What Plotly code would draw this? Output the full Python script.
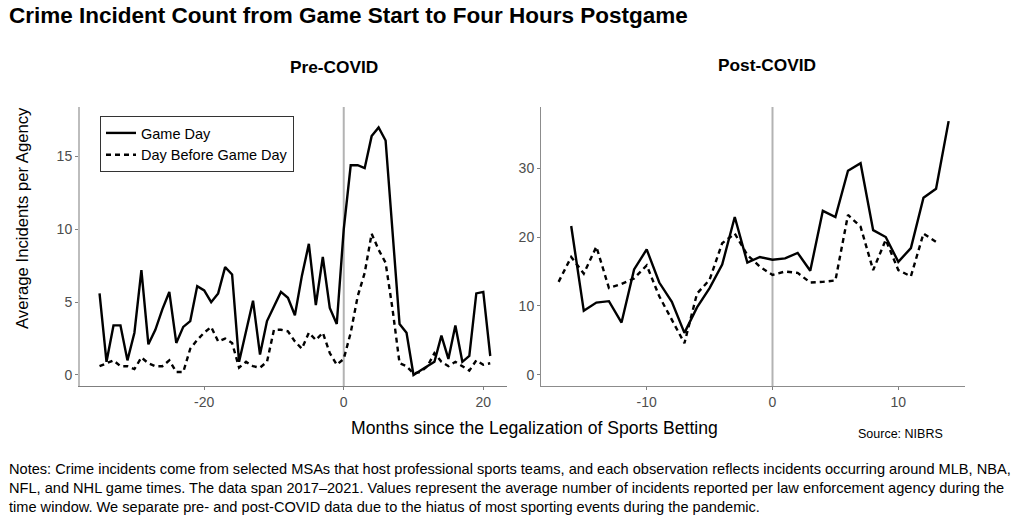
import plotly.graph_objects as go

# ---------------- data ----------------
months_pre = list(range(-35, 22))
game_day_pre = [5.6, 0.9, 3.4, 3.4, 1.0, 2.9, 7.2, 2.1, 3.1, 4.5,
                5.7, 2.2, 3.3, 3.7, 6.1, 5.8, 5.0, 5.6, 7.4, 6.9,
                0.9, 3.0, 5.1, 1.4, 3.7, 4.7, 5.7, 5.3, 4.1,
                6.8, 9.0, 4.8, 8.1, 4.6, 3.5, 10.0, 14.4, 14.4, 14.2,
                16.4, 17.0, 16.1, 9.5, 3.5, 2.9, 0.0, 0.3, 0.6, 0.9,
                2.7, 1.1, 3.4, 0.9, 1.3, 5.6, 5.7, 1.3]
day_before_pre = [0.6, 0.8, 1.0, 0.6, 0.6, 0.4, 1.2, 0.8, 0.6, 0.6,
                  1.0, 0.2, 0.2, 1.8, 2.4, 2.9, 3.3, 2.3, 2.5, 2.2,
                  0.5, 0.9, 0.6, 0.5, 0.9, 3.1, 3.1, 3.0, 2.3,
                  1.8, 2.9, 2.4, 2.9, 1.5, 0.7, 1.1, 2.9, 5.4, 7.0,
                  9.7, 8.6, 7.7, 4.5, 0.8, 0.6, 0.1, 0.2, 0.6, 1.5,
                  0.9, 0.6, 0.9, 0.6, 0.3, 1.0, 0.7, 0.8]

months_post_game = list(range(-16, 15))
game_day_post = [21.6, 9.3, 10.5, 10.7, 7.6, 15.3, 18.2, 13.4, 10.6, 6.1,
                 9.8, 12.6, 16.0, 22.9, 16.3, 17.1,
                 16.7, 16.9, 17.7, 15.1, 23.8, 22.9, 29.6, 30.7, 21.0, 20.0,
                 16.4, 18.4, 25.7, 27.0, 36.8]
months_post_before = list(range(-17, 14))
day_before_post = [13.5, 17.1, 14.7, 18.6, 12.6, 13.2, 14.0, 15.9, 11.4, 8.0,
                   4.6, 11.8, 13.8, 19.1, 20.5, 17.4, 15.7,
                   14.5, 15.0, 14.8, 13.4, 13.5, 13.7, 23.2, 21.5, 15.2,
                   19.6, 15.2, 14.3, 20.5, 19.3]

xticks_pre = [-20, 0, 20]
xticklabels_pre = ["-20", "0", "20"]
yticks_pre = [0, 5, 10, 15]
xticks_post = [-10, 0, 10]
xticklabels_post = ["-10", "0", "10"]
yticks_post = [0, 10, 20, 30]

title_text = "Crime Incident Count from Game Start to Four Hours Postgame"
panel_titles = ["Pre-COVID", "Post-COVID"]
series_names = ["Game Day", "Day Before Game Day"]
y_title = "Average Incidents per Agency"
x_title = "Months since the Legalization of Sports Betting"
source_text = "Source: NIBRS"
notes_lines = [
    "Notes: Crime incidents come from selected MSAs that host professional sports teams, and each observation reflects incidents occurring around MLB, NBA,",
    "NFL, and NHL game times. The data span 2017\u20132021. Values represent the average number of incidents reported per law enforcement agency during the",
    "time window. We separate pre- and post-COVID data due to the hiatus of most sporting events during the pandemic.",
]

# ---------------- figure ----------------
W, H = 1024, 519
FONT = "Liberation Sans, Arial, sans-serif"
DASH = "5px,4px"
LW = 2.4

fig = go.Figure()
fig.add_trace(go.Scatter(x=months_pre, y=game_day_pre, mode="lines", name=series_names[0],
                         line=dict(color="black", width=LW), xaxis="x", yaxis="y",
                         legendgroup="a"))
fig.add_trace(go.Scatter(x=months_pre, y=day_before_pre, mode="lines", name=series_names[1],
                         line=dict(color="black", width=LW, dash=DASH), xaxis="x", yaxis="y",
                         legendgroup="b"))
fig.add_trace(go.Scatter(x=months_post_game, y=game_day_post, mode="lines", name=series_names[0],
                         line=dict(color="black", width=LW), xaxis="x2", yaxis="y2",
                         showlegend=False, legendgroup="a"))
fig.add_trace(go.Scatter(x=months_post_before, y=day_before_post, mode="lines", name=series_names[1],
                         line=dict(color="black", width=LW, dash=DASH), xaxis="x2", yaxis="y2",
                         showlegend=False, legendgroup="b"))


def px_x(p):
    return p / W


def px_y(p):
    return 1 - p / H


tickfont = dict(family=FONT, size=14, color="#4d4d4d")
common_axis = dict(showgrid=False, zeroline=False, ticks="outside", ticklen=3,
                   tickwidth=1, tickcolor="#7f7f7f", tickfont=tickfont, showline=True)

fig.update_layout(
    width=W, height=H,
    margin=dict(l=0, r=0, t=0, b=0),
    paper_bgcolor="white", plot_bgcolor="white",
    font=dict(family=FONT, color="black"),
    xaxis=dict(domain=[px_x(80), px_x(507)], range=[-37.8, 23.4],
               tickvals=xticks_pre, ticktext=xticklabels_pre,
               linecolor="#7f7f7f", linewidth=1, anchor="y", **common_axis),
    yaxis=dict(domain=[px_y(386), px_y(107)], range=[-0.76, 18.4],
               tickvals=yticks_pre, linecolor="#bdbdbd", linewidth=2, anchor="x",
               **common_axis),
    xaxis2=dict(domain=[px_x(541), px_x(965)], range=[-18.4, 15.3],
                tickvals=xticks_post, ticktext=xticklabels_post,
                linecolor="#8c8c8c", linewidth=1, anchor="y2", **common_axis),
    yaxis2=dict(domain=[px_y(386), px_y(107)], range=[-1.6, 38.85],
                tickvals=yticks_post, linecolor="#8c8c8c", linewidth=1, anchor="x2",
                **common_axis),
    showlegend=True,
    legend=dict(x=px_x(100), y=px_y(116), xanchor="left", yanchor="top",
                bgcolor="white", bordercolor="#333333", borderwidth=1,
                font=dict(family=FONT, size=14.5, color="black"),
                itemwidth=30, entrywidth=215, entrywidthmode="pixels",
                tracegroupgap=0),
)

# vertical reference lines at month 0
for xr, yr in (("x", "y domain"), ("x2", "y2 domain")):
    fig.add_shape(type="line", xref=xr, yref=yr, x0=0, x1=0, y0=0, y1=1,
                  line=dict(color="#b3b3b3", width=2), layer="below")

ann = []
ann.append(dict(text="<b>" + title_text + "</b>", x=px_x(7), y=px_y(16),
                xanchor="left", yanchor="middle", showarrow=False,
                font=dict(family=FONT, size=22.5, color="black")))
ann.append(dict(text="<b>" + panel_titles[0] + "</b>", x=px_x(334), y=px_y(67),
                xanchor="center", yanchor="middle", showarrow=False,
                font=dict(family=FONT, size=17.3, color="black")))
ann.append(dict(text="<b>" + panel_titles[1] + "</b>", x=px_x(767), y=px_y(65),
                xanchor="center", yanchor="middle", showarrow=False,
                font=dict(family=FONT, size=17.3, color="black")))
ann.append(dict(text=y_title, x=px_x(22), y=px_y(218),
                xanchor="center", yanchor="middle", textangle=-90, showarrow=False,
                font=dict(family=FONT, size=16.7, color="black")))
ann.append(dict(text=x_title, x=px_x(534), y=px_y(428),
                xanchor="center", yanchor="middle", showarrow=False,
                font=dict(family=FONT, size=17.6, color="black")))
ann.append(dict(text=source_text, x=px_x(856), y=px_y(434),
                xanchor="left", yanchor="middle", showarrow=False,
                font=dict(family=FONT, size=12.5, color="black")))
for i, line in enumerate(notes_lines):
    ann.append(dict(text=line, x=px_x(7), y=px_y(469 + 19 * i),
                    xanchor="left", yanchor="middle", showarrow=False,
                    font=dict(family=FONT, size=14.6, color="black")))
for a in ann:
    a.update(xref="paper", yref="paper")
fig.update_layout(annotations=ann)

fig.write_html("out.html")
